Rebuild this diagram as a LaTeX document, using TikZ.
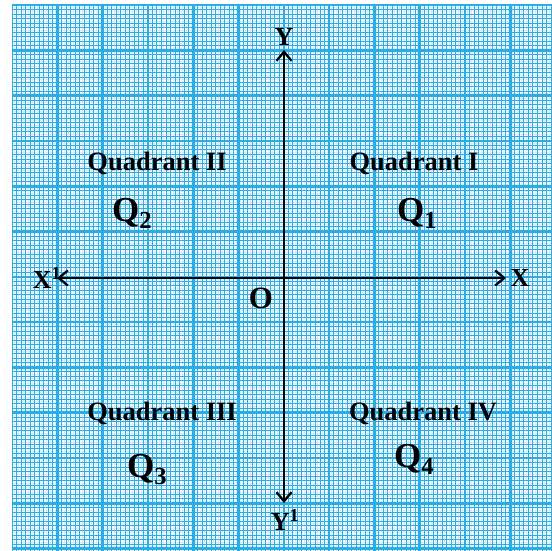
\documentclass[tikz,border=0pt]{standalone}
\usepackage{fontspec}
\setmainfont{Liberation Serif}
\usetikzlibrary{arrows.meta}
\definecolor{gridblue}{RGB}{45,172,228}
\definecolor{gridlight}{RGB}{212,237,250}
\tikzset{
  minorline/.style={gridblue, line width=1pt},
  faintline/.style={gridlight, line width=0.6pt},
  majorline/.style={gridblue, line width=2.6pt},
  axisline/.style={black, line width=2pt, -{Straight Barb[length=9pt,width=15pt,line width=2.3pt]}},
  quadtext/.style={font=\fontsize{26.5}{26.5}\selectfont\bfseries, inner sep=0pt},
  qtext/.style={font=\fontsize{35}{35}\selectfont\bfseries, inner sep=0pt},
  axtext/.style={font=\fontsize{26}{26}\selectfont\bfseries, inner sep=0pt}
}
\begin{document}
\begin{tikzpicture}[x=1pt,y=-1pt]
\useasboundingbox (0,0) rectangle (552,551);
\fill[white] (0,0) rectangle (552,551);
\begin{scope}
\clip (12,5) rectangle (552,551);
\foreach \i in {0,...,120} {
  \draw[faintline] ({12+\i*4.53+2.265},5) -- ({12+\i*4.53+2.265},551);
  \draw[faintline] (12,{5+\i*4.53+2.265}) -- (552,{5+\i*4.53+2.265});
}
\foreach \i in {0,...,120} {
  \draw[minorline] ({12+\i*4.53},5) -- ({12+\i*4.53},551);
  \draw[minorline] (12,{5+\i*4.53}) -- (552,{5+\i*4.53});
}
\foreach \i in {0,...,12} {
  \draw[majorline] ({12+\i*45.3},5) -- ({12+\i*45.3},551);
  \draw[majorline] (12,{5+\i*45.3}) -- (552,{5+\i*45.3});
}
\end{scope}
\node[axtext] (yl) at (284,37) {Y};
\node[axtext] (ylb) at (285,520) {Y\textsuperscript{1}};
\node[axtext] (xl) at (520,278) {X};
\node[axtext] (xlb) at (47,278) {X\textsuperscript{1}};
\coordinate (xs) at (57,278);
\coordinate (xe) at (506,278);
\coordinate (ys) at (284,50);
\coordinate (ye) at (284,503);
\coordinate (o) at (284,278);
\draw[axisline] (o) -- (xe);
\draw[axisline] (o) -- (xs);
\draw[axisline] (o) -- (ys);
\draw[axisline] (o) -- (ye);
\node[font=\fontsize{31}{31}\selectfont\bfseries, inner sep=0pt] (O) at (261,298) {O};
\node[quadtext] (q1t) at (414,163) {Quadrant I};
\node[quadtext] (q2t) at (157,163) {Quadrant II};
\node[quadtext] (q3t) at (162,413) {Quadrant III};
\node[quadtext] (q4t) at (423,413) {Quadrant IV};
\node[qtext, anchor=base west] (q1) at (397,221) {Q$_{\mathbf{1}}$};
\node[qtext, anchor=base west] (q2) at (112,221) {Q$_{\mathbf{2}}$};
\node[qtext, anchor=base west] (q3) at (127,477) {Q$_{\mathbf{3}}$};
\node[qtext, anchor=base west] (q4) at (394,467) {Q$_{\mathbf{4}}$};
\end{tikzpicture}
\end{document}
